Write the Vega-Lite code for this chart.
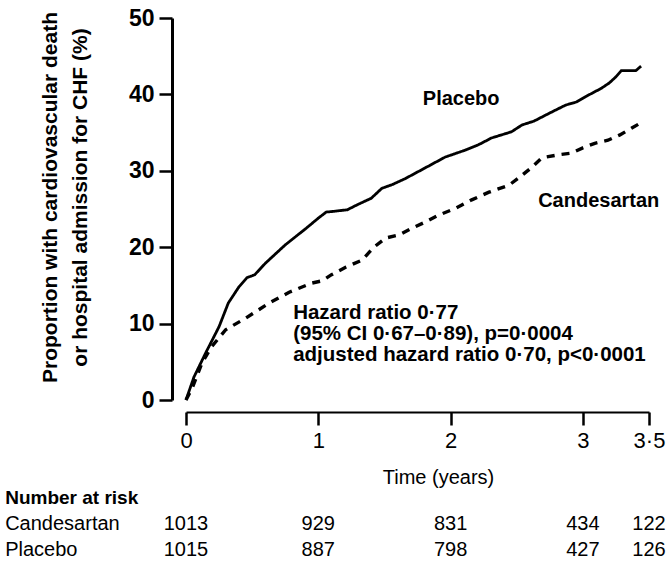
{
  "$schema": "https://vega.github.io/schema/vega-lite/v6.json",
  "width": 463,
  "height": 382,
  "autosize": {"type": "none"},
  "padding": {"left": 186, "top": 18, "right": 21, "bottom": 163},
  "background": "white",
  "config": {
    "view": {"stroke": null},
    "font": "Liberation Sans",
    "axis": {"grid": false, "domainColor": "black", "tickColor": "black", "labelColor": "black", "titleColor": "black", "labelFont": "Liberation Sans", "titleFont": "Liberation Sans"},
    "text": {"font": "Liberation Sans", "color": "black"}
  },
  "datasets": {
    "curves": [
      {"group": "Placebo", "t": 0, "v": 0}, {"group": "Placebo", "t": 0.06, "v": 3.0}, {"group": "Placebo", "t": 0.15, "v": 6.2}, {"group": "Placebo", "t": 0.25, "v": 9.6}, {"group": "Placebo", "t": 0.32, "v": 12.7}, {"group": "Placebo", "t": 0.40, "v": 14.8}, {"group": "Placebo", "t": 0.46, "v": 16.0}, {"group": "Placebo", "t": 0.52, "v": 16.4}, {"group": "Placebo", "t": 0.60, "v": 17.9}, {"group": "Placebo", "t": 0.75, "v": 20.3}, {"group": "Placebo", "t": 0.91, "v": 22.5}, {"group": "Placebo", "t": 1.0, "v": 23.8}, {"group": "Placebo", "t": 1.06, "v": 24.6}, {"group": "Placebo", "t": 1.12, "v": 24.7}, {"group": "Placebo", "t": 1.22, "v": 24.9}, {"group": "Placebo", "t": 1.30, "v": 25.6}, {"group": "Placebo", "t": 1.40, "v": 26.4}, {"group": "Placebo", "t": 1.48, "v": 27.7}, {"group": "Placebo", "t": 1.56, "v": 28.2}, {"group": "Placebo", "t": 1.66, "v": 29.0}, {"group": "Placebo", "t": 1.81, "v": 30.4}, {"group": "Placebo", "t": 1.96, "v": 31.8}, {"group": "Placebo", "t": 2.11, "v": 32.7}, {"group": "Placebo", "t": 2.21, "v": 33.4}, {"group": "Placebo", "t": 2.31, "v": 34.3}, {"group": "Placebo", "t": 2.46, "v": 35.1}, {"group": "Placebo", "t": 2.54, "v": 36.0}, {"group": "Placebo", "t": 2.63, "v": 36.5}, {"group": "Placebo", "t": 2.72, "v": 37.3}, {"group": "Placebo", "t": 2.80, "v": 38.0}, {"group": "Placebo", "t": 2.87, "v": 38.6}, {"group": "Placebo", "t": 2.95, "v": 39.0}, {"group": "Placebo", "t": 3.02, "v": 39.7}, {"group": "Placebo", "t": 3.14, "v": 40.8}, {"group": "Placebo", "t": 3.20, "v": 41.5}, {"group": "Placebo", "t": 3.25, "v": 42.3}, {"group": "Placebo", "t": 3.29, "v": 43.1}, {"group": "Placebo", "t": 3.40, "v": 43.1}, {"group": "Placebo", "t": 3.44, "v": 43.7},
      {"group": "Candesartan", "t": 0, "v": 0}, {"group": "Candesartan", "t": 0.05, "v": 1.7}, {"group": "Candesartan", "t": 0.12, "v": 4.8}, {"group": "Candesartan", "t": 0.19, "v": 6.9}, {"group": "Candesartan", "t": 0.30, "v": 9.2}, {"group": "Candesartan", "t": 0.45, "v": 10.7}, {"group": "Candesartan", "t": 0.63, "v": 12.7}, {"group": "Candesartan", "t": 0.78, "v": 14.1}, {"group": "Candesartan", "t": 0.95, "v": 15.3}, {"group": "Candesartan", "t": 1.03, "v": 15.6}, {"group": "Candesartan", "t": 1.10, "v": 16.4}, {"group": "Candesartan", "t": 1.21, "v": 17.4}, {"group": "Candesartan", "t": 1.33, "v": 18.3}, {"group": "Candesartan", "t": 1.42, "v": 20.0}, {"group": "Candesartan", "t": 1.51, "v": 21.2}, {"group": "Candesartan", "t": 1.61, "v": 21.6}, {"group": "Candesartan", "t": 1.71, "v": 22.5}, {"group": "Candesartan", "t": 1.81, "v": 23.3}, {"group": "Candesartan", "t": 1.91, "v": 24.2}, {"group": "Candesartan", "t": 2.04, "v": 25.1}, {"group": "Candesartan", "t": 2.16, "v": 26.2}, {"group": "Candesartan", "t": 2.29, "v": 27.2}, {"group": "Candesartan", "t": 2.44, "v": 28.1}, {"group": "Candesartan", "t": 2.51, "v": 29.0}, {"group": "Candesartan", "t": 2.61, "v": 30.4}, {"group": "Candesartan", "t": 2.69, "v": 31.7}, {"group": "Candesartan", "t": 2.82, "v": 32.1}, {"group": "Candesartan", "t": 2.91, "v": 32.3}, {"group": "Candesartan", "t": 3.00, "v": 33.0}, {"group": "Candesartan", "t": 3.09, "v": 33.6}, {"group": "Candesartan", "t": 3.19, "v": 34.0}, {"group": "Candesartan", "t": 3.28, "v": 34.7}, {"group": "Candesartan", "t": 3.37, "v": 35.6}, {"group": "Candesartan", "t": 3.44, "v": 36.3}
    ],
    "labels": [
      {"text": "Placebo", "t": 2.08, "v": 38.6},
      {"text": "Candesartan", "t": 3.12, "v": 25.3}
    ],
    "notes": [
      {"text": "Hazard  ratio 0·77", "t": 0.81, "v": 10.6},
      {"text": "(95% CI 0·67–0·89), p=0·0004", "t": 0.81, "v": 7.85},
      {"text": "adjusted hazard  ratio 0·70, p<0·0001", "t": 0.81, "v": 5.1}
    ],
    "heading": [
      {"text": "Number at risk", "t": -1.367, "v": -13.6}
    ],
    "rowlabels": [
      {"text": "Candesartan", "t": -1.367, "v": -17.0},
      {"text": "Placebo", "t": -1.367, "v": -20.4}
    ],
    "risk": [
      {"group": "Candesartan", "t": 0, "n": 1013, "v": -17.0}, {"group": "Candesartan", "t": 1, "n": 929, "v": -17.0}, {"group": "Candesartan", "t": 2, "n": 831, "v": -17.0}, {"group": "Candesartan", "t": 3, "n": 434, "v": -17.0}, {"group": "Candesartan", "t": 3.5, "n": 122, "v": -17.0},
      {"group": "Placebo", "t": 0, "n": 1015, "v": -20.4}, {"group": "Placebo", "t": 1, "n": 887, "v": -20.4}, {"group": "Placebo", "t": 2, "n": 798, "v": -20.4}, {"group": "Placebo", "t": 3, "n": 427, "v": -20.4}, {"group": "Placebo", "t": 3.5, "n": 126, "v": -20.4}
    ]
  },
  "layer": [
    {
      "data": {"name": "curves"},
      "mark": {"type": "line", "color": "black", "clip": false},
      "encoding": {
        "x": {"field": "t", "type": "quantitative", "scale": {"domain": [0, 3.5], "nice": false, "zero": false},
          "axis": {"values": [0, 1, 2, 3, 3.5], "offset": 12, "tickSize": 13, "tickWidth": 2.5, "domainWidth": 2, "labelFontSize": 22, "labelPadding": 5, "labelExpr": "datum.value === 3.5 ? '3·5' : format(datum.value, 'd')", "labelFlush": false, "title": "Time (years)", "titleFontSize": 20, "titleFontWeight": "normal", "titleX": 252, "titlePadding": 16}},
        "y": {"field": "v", "type": "quantitative", "scale": {"domain": [0, 50], "nice": false, "zero": false},
          "axis": {"values": [0, 10, 20, 30, 40, 50], "offset": 14, "tickSize": 13, "tickWidth": 2.5, "domainWidth": 3, "labelFontSize": 23, "labelFontWeight": "bold", "labelPadding": 5, "labelFlush": false, "title": ["Proportion with cardiovascular death", "or hospital admission for CHF (%)"], "titleFontSize": 21, "titleFontWeight": "bold", "titleLineHeight": 30, "titleX": -112, "titleY": 179, "titleBaseline": "bottom"}},
        "detail": {"field": "group"},
        "strokeDash": {"field": "group", "type": "nominal", "scale": {"domain": ["Placebo", "Candesartan"], "range": [[1, 0], [8, 7]]}, "legend": null},
        "strokeWidth": {"field": "group", "type": "nominal", "scale": {"domain": ["Placebo", "Candesartan"], "range": [2.8, 3.4]}, "legend": null}
      }
    },
    {
      "data": {"name": "labels"},
      "mark": {"type": "text", "fontSize": 20, "fontWeight": "bold", "align": "center", "baseline": "alphabetic"},
      "encoding": {
        "x": {"field": "t", "type": "quantitative"},
        "y": {"field": "v", "type": "quantitative"},
        "text": {"field": "text"}
      }
    },
    {
      "data": {"name": "notes"},
      "mark": {"type": "text", "fontSize": 20.5, "fontWeight": "bold", "align": "left", "baseline": "alphabetic"},
      "encoding": {
        "x": {"field": "t", "type": "quantitative"},
        "y": {"field": "v", "type": "quantitative"},
        "text": {"field": "text"}
      }
    },
    {
      "data": {"name": "heading"},
      "mark": {"type": "text", "fontSize": 19, "fontWeight": "bold", "align": "left", "baseline": "alphabetic"},
      "encoding": {
        "x": {"field": "t", "type": "quantitative"},
        "y": {"field": "v", "type": "quantitative"},
        "text": {"field": "text"}
      }
    },
    {
      "data": {"name": "rowlabels"},
      "mark": {"type": "text", "fontSize": 20, "align": "left", "baseline": "alphabetic"},
      "encoding": {
        "x": {"field": "t", "type": "quantitative"},
        "y": {"field": "v", "type": "quantitative"},
        "text": {"field": "text"}
      }
    },
    {
      "data": {"name": "risk"},
      "mark": {"type": "text", "fontSize": 20, "align": "center", "baseline": "alphabetic"},
      "encoding": {
        "x": {"field": "t", "type": "quantitative"},
        "y": {"field": "v", "type": "quantitative"},
        "text": {"field": "n", "type": "quantitative"}
      }
    }
  ]
}
